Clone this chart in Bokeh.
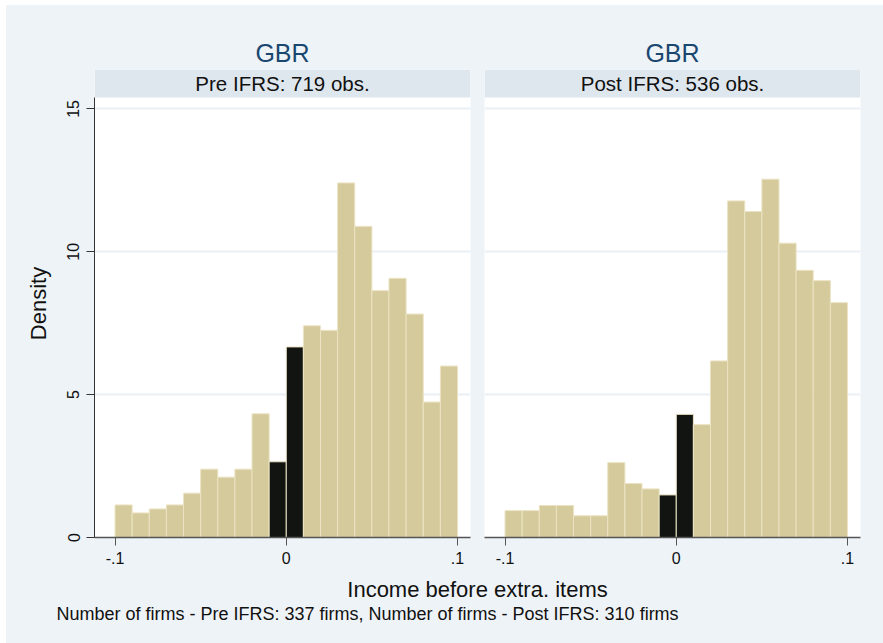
from bokeh.plotting import figure
from bokeh.models import Range1d, FixedTicker, BoxAnnotation, Label, ColumnDataSource
from bokeh.layouts import column, row
from bokeh.embed import file_html
from bokeh.resources import INLINE

# ---- data ----
bin_edges = [-0.10, -0.09, -0.08, -0.07, -0.06, -0.05, -0.04, -0.03, -0.02, -0.01,
             0.00, 0.01, 0.02, 0.03, 0.04, 0.05, 0.06, 0.07, 0.08, 0.09, 0.10]
pre_density = [1.14, 0.86, 1.00, 1.14, 1.55, 2.39, 2.11, 2.39, 4.33, 2.65,
               6.67, 7.41, 7.25, 12.41, 10.89, 8.64, 9.07, 7.82, 4.74, 6.00]
post_density = [0.94, 0.94, 1.12, 1.12, 0.76, 0.76, 2.62, 1.89, 1.70, 1.49,
                4.31, 3.95, 6.18, 11.78, 11.41, 12.54, 10.30, 9.35, 8.99, 8.22]
panel_titles = ["GBR", "GBR"]
strip_labels = ["Pre IFRS: 719 obs.", "Post IFRS: 536 obs."]
x_ticks = [-0.1, 0.0, 0.1]
x_tick_labels = ["-.1", "0", ".1"]
y_ticks = [0, 5, 10, 15]
x_title = "Income before extra. items"
note = "Number of firms - Pre IFRS: 337 firms, Number of firms - Post IFRS: 310 firms"

# ---- style ----
FONT = "Liberation Sans"
BG = "#eef3f7"
STRIP = "#dfe7ee"
GRID = "#eaf0f5"
BAR = "#d5ca9b"
BAR_EDGE = "#ebe3c3"
DARK = "#121412"
TITLE_C = "#1a476f"

X0, X1 = -0.112, 0.1076
Y_PLOT_TOP = 15.4
Y_TOP = 16.38


def panel(dens, title, strip, left_border, right_border, show_y):
    p = figure(frame_width=376, frame_height=468,
               min_border_left=left_border, min_border_right=right_border,
               min_border_top=64, min_border_bottom=35,
               x_range=Range1d(X0, X1), y_range=Range1d(0, Y_TOP),
               toolbar_location=None, output_backend="svg")
    p.background_fill_color = "white"
    p.border_fill_color = BG
    p.outline_line_color = None

    lefts = bin_edges[:-1]
    rights = bin_edges[1:]
    colors = [DARK if abs((l + r) / 2) < 0.01 else BAR for l, r in zip(lefts, rights)]
    src = ColumnDataSource(dict(left=lefts, right=rights, top=dens,
                                bottom=[0] * len(dens), color=colors))
    p.quad(left="left", right="right", top="top", bottom="bottom", source=src,
           fill_color="color", line_color=BAR_EDGE, line_width=1)

    # strip header
    p.add_layout(BoxAnnotation(bottom=Y_PLOT_TOP, top=Y_TOP, fill_color=STRIP,
                               fill_alpha=1, line_color=None, level="underlay"))
    p.add_layout(Label(x=(X0 + X1) / 2, y=(Y_PLOT_TOP + Y_TOP) / 2, text=strip,
                       text_align="center", text_baseline="middle",
                       text_font=FONT, text_font_size="20.5px", text_color="#111111"))

    p.title.text = title
    p.title.align = "center"
    p.title.text_font = FONT
    p.title.text_font_size = "25px"
    p.title.text_font_style = "normal"
    p.title.text_color = TITLE_C
    p.title.standoff = 6

    # x axis
    xa = p.xaxis[0]
    xa.ticker = FixedTicker(ticks=x_ticks)
    xa.major_label_overrides = {t: s for t, s in zip(x_ticks, x_tick_labels)}
    xa.major_tick_out = 8
    xa.major_tick_in = 0
    xa.minor_tick_out = 0
    xa.minor_tick_in = 0
    xa.axis_line_color = "#555555"
    xa.axis_line_width = 1.5
    xa.major_tick_line_color = "#555555"
    xa.major_label_text_font = FONT
    xa.major_label_text_font_size = "16px"
    xa.major_label_text_color = "#111111"
    xa.major_label_standoff = 6

    # y axis
    ya = p.yaxis[0]
    ya.ticker = FixedTicker(ticks=y_ticks)
    ya.bounds = (0, Y_PLOT_TOP)
    ya.major_tick_out = 8
    ya.major_tick_in = 0
    ya.minor_tick_out = 0
    ya.minor_tick_in = 0
    ya.axis_line_color = "#333333"
    ya.major_tick_line_color = "#333333"
    ya.major_label_orientation = "vertical"
    ya.major_label_text_font = FONT
    ya.major_label_text_font_size = "16px"
    ya.major_label_text_color = "#111111"
    ya.major_label_standoff = 7
    if show_y:
        ya.axis_label = "Density"
        ya.axis_label_text_font = FONT
        ya.axis_label_text_font_size = "22px"
        ya.axis_label_text_font_style = "normal"
        ya.axis_label_text_color = "#111111"
        ya.axis_label_standoff = 14
    else:
        ya.visible = False

    p.xgrid.visible = False
    p.ygrid.ticker = FixedTicker(ticks=y_ticks[1:])
    p.ygrid.grid_line_color = GRID
    p.ygrid.grid_line_width = 2
    return p


p1 = panel(pre_density, panel_titles[0], strip_labels[0], 88, 7, True)
p2 = panel(post_density, panel_titles[1], strip_labels[1], 7, 23, False)

# bottom area: shared x title and note
p3 = figure(width=877, height=71, x_range=Range1d(0, 877), y_range=Range1d(0, 71),
            toolbar_location=None, output_backend="svg", min_border=0)
p3.axis.visible = False
p3.grid.visible = False
p3.outline_line_color = None
p3.background_fill_color = BG
p3.border_fill_color = BG
p3.add_layout(Label(x=471, y=54, text=x_title, text_align="center", text_baseline="middle",
                    text_font=FONT, text_font_size="22px", text_color="#111111"))
p3.add_layout(Label(x=50, y=30, text=note, text_align="left", text_baseline="middle",
                    text_font=FONT, text_font_size="18px", text_color="#111111"))

top_row = row(p1, p2, styles={"background-color": BG})
layout = column(top_row, p3, margin=(5, 0, 0, 6), styles={"background-color": BG})

with open("out.html", "w") as f:
    f.write(file_html(layout, INLINE))
